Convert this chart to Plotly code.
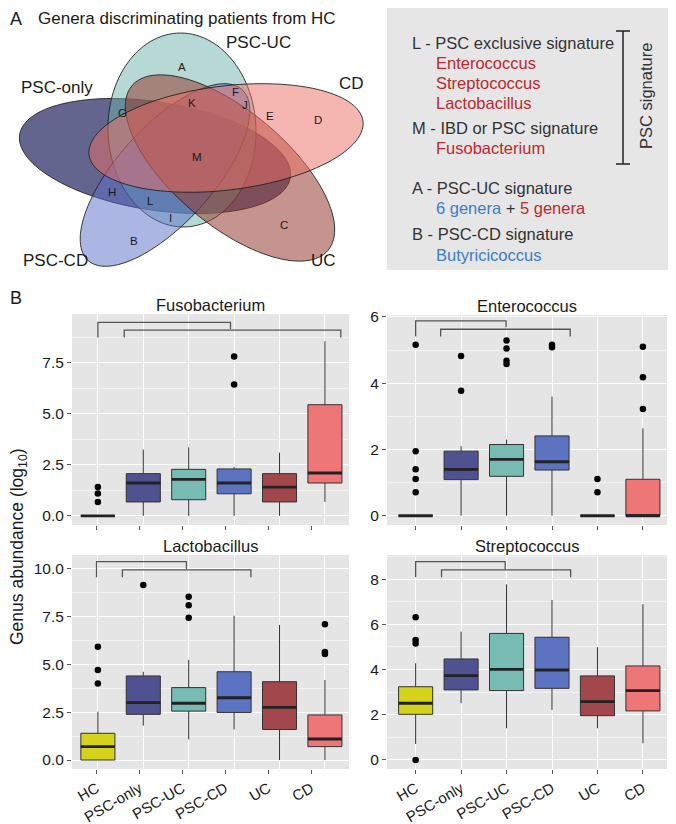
import numpy as np
import plotly.graph_objects as go

# the page body adds an 8px margin on the top/left, so shift everything by it
OFF = 8
W, H = 676 - OFF, 824 - OFF
FONT = "Liberation Sans, Arial, sans-serif"

# ---- data -------------------------------------------------------------
GROUPS = ["HC", "PSC-only", "PSC-UC", "PSC-CD", "UC", "CD"]
GROUP_COLORS = ["#d4d21a", "#4f5190", "#77bbb3", "#5b73c0", "#a2474b", "#ef7676"]

fuso_q1 = [0, 0.68, 0.79, 1.08, 0.68, 1.61]
fuso_median = [0, 1.61, 1.79, 1.61, 1.41, 2.10]
fuso_q3 = [0, 2.07, 2.28, 2.30, 2.07, 5.45]
fuso_low = [0, 0, 0, 0, 0, 0.68]
fuso_high = [0, 3.25, 3.36, 2.40, 3.10, 8.56]
fuso_out = [[0.68, 1.09, 1.42], [], [], [6.44, 7.81], [], []]

entero_q1 = [0, 1.09, 1.19, 1.38, 0, 0]
entero_median = [0, 1.40, 1.70, 1.63, 0, 0]
entero_q3 = [0, 1.95, 2.15, 2.41, 0, 1.10]
entero_low = [0, 0, 0, 0, 0, 0]
entero_high = [0, 2.10, 2.30, 3.60, 0, 2.64]
entero_out = [[0.71, 1.11, 1.40, 1.95, 5.16], [3.77, 4.82],
              [4.58, 4.68, 5.05, 5.29], [5.09, 5.16], [0.71, 1.11],
              [3.22, 4.18, 5.10]]

lacto_q1 = [0, 2.39, 2.56, 2.49, 1.60, 0.70]
lacto_median = [0.70, 3.00, 2.97, 3.26, 2.76, 1.10]
lacto_q3 = [1.40, 4.40, 3.79, 4.62, 4.10, 2.36]
lacto_low = [0, 1.80, 1.08, 1.60, 0, 0]
lacto_high = [2.53, 4.62, 5.24, 7.55, 7.07, 4.19]
lacto_out = [[4.01, 4.71, 5.93], [9.16], [7.45, 8.10, 8.55], [], [],
             [5.55, 5.65, 7.10]]

strep_q1 = [2.02, 3.10, 3.07, 3.17, 1.96, 2.17]
strep_median = [2.51, 3.73, 4.01, 3.98, 2.58, 3.07]
strep_q3 = [3.24, 4.47, 5.60, 5.43, 3.72, 4.16]
strep_low = [0.71, 2.51, 1.40, 2.21, 1.40, 0.74]
strep_high = [4.28, 5.68, 7.77, 7.08, 4.99, 6.89]
strep_out = [[0, 5.15, 5.31, 6.31], [], [], [], [], []]

# significance brackets: x0, x1, top, left foot, right foot
fuso_brackets = [(0.0, 2.92, 9.49, 8.75, 9.16), (0.58, 5.35, 9.11, 8.75, 8.75)]
entero_brackets = [(0.0, 1.99, 5.88, 5.41, 5.69), (0.55, 3.40, 5.63, 5.41, 5.41)]
lacto_brackets = [(-0.03, 1.95, 10.38, 9.56, 9.98), (0.54, 3.37, 9.95, 9.56, 9.56)]
strep_brackets = [(0.0, 1.97, 8.78, 8.08, 8.43), (0.57, 3.41, 8.41, 8.08, 8.08)]

# in the left column the tick marks sit on a slightly tighter pitch than the boxes
LEFT_TICK_POS = [-0.03, 0.915, 1.86, 2.805, 3.75, 4.695]
RIGHT_TICK_POS = [0, 1, 2, 3, 4, 5]


def X(px):
    return (px - OFF) / W


def Y(py):
    return 1 - (py - OFF) / H


def label(text, x, y, size, color="#1a1a1a", xanchor="center", angle=0):
    return dict(text=text, x=X(x), y=Y(y), xref="paper", yref="paper",
                xanchor=xanchor, yanchor="middle", textangle=angle, showarrow=False,
                font=dict(family=FONT, size=size, color=color))


fig = go.Figure()

panels = [
    ("Fusobacterium", fuso_q1, fuso_median, fuso_q3, fuso_low, fuso_high, fuso_out, fuso_brackets),
    ("Enterococcus", entero_q1, entero_median, entero_q3, entero_low, entero_high, entero_out, entero_brackets),
    ("Lactobacillus", lacto_q1, lacto_median, lacto_q3, lacto_low, lacto_high, lacto_out, lacto_brackets),
    ("Streptococcus", strep_q1, strep_median, strep_q3, strep_low, strep_high, strep_out, strep_brackets),
]
panel_px = [(72, 349, 314, 525), (387, 667, 315, 525), (72, 349, 555, 769), (387, 667, 555, 769)]
x_ranges = [[-0.57, 5.53], [-0.63, 5.53], [-0.57, 5.53], [-0.63, 5.53]]
tick_pos = [LEFT_TICK_POS, RIGHT_TICK_POS, LEFT_TICK_POS, RIGHT_TICK_POS]
y_ranges = [[-0.45, 9.9], [-0.28, 6.06], [-0.47, 10.73], [-0.4, 9.07]]
y_dtick = [2.5, 2, 2.5, 2]
y_fmt = [".1f", "d", ".1f", "d"]

shapes = []
annotations = []
bw = 0.75

for k, (title, q1, med, q3, lo, hi, outs, brackets) in enumerate(panels):
    xa = "x" if k == 0 else "x%d" % (k + 1)
    ya = "y" if k == 0 else "y%d" % (k + 1)
    for i, g in enumerate(GROUPS):
        fig.add_trace(go.Box(
            x=[i], q1=[q1[i]], median=[med[i]], q3=[q3[i]],
            lowerfence=[lo[i]], upperfence=[hi[i]], width=bw,
            fillcolor=GROUP_COLORS[i], line=dict(color="#333333", width=1),
            whiskerwidth=0, boxpoints=False, showlegend=False, name=g,
            xaxis=xa, yaxis=ya))
    mx, my = [], []
    for i in range(len(GROUPS)):
        mx += [i - bw / 2, i + bw / 2, None]
        my += [med[i], med[i], None]
    fig.add_trace(go.Scatter(x=mx, y=my, mode="lines", line=dict(color="#222222", width=2.8),
                             showlegend=False, xaxis=xa, yaxis=ya, hoverinfo="skip"))
    ox, oy = [], []
    for i, vals in enumerate(outs):
        ox += [i] * len(vals)
        oy += vals
    fig.add_trace(go.Scatter(x=ox, y=oy, mode="markers", marker=dict(color="black", size=6.5),
                             showlegend=False, xaxis=xa, yaxis=ya))
    for (x0, x1, top, f0, f1) in brackets:
        shapes.append(dict(type="path", xref=xa, yref=ya,
                           path="M %g %g L %g %g L %g %g L %g %g" % (x0, f0, x0, top, x1, top, x1, f1),
                           line=dict(color="#555555", width=1.3)))

    l, r, t, b = panel_px[k]
    key = "" if k == 0 else str(k + 1)
    fig.layout["xaxis" + key] = dict(
        domain=[X(l), X(r)], range=x_ranges[k], anchor=ya, automargin=False,
        tickmode="array", tickvals=tick_pos[k], ticktext=GROUPS,
        showticklabels=k >= 2, tickangle=-30, ticks="outside", ticklen=4,
        tickcolor="#555555", showgrid=False,
        minor=dict(tickmode="array", tickvals=list(range(len(GROUPS))), ticks="",
                   showgrid=True, gridcolor="white", gridwidth=1.3),
        zeroline=False, showline=False,
        tickfont=dict(family=FONT, size=15, color="#1a1a1a"))
    fig.layout["yaxis" + key] = dict(
        domain=[Y(b), Y(t)], range=y_ranges[k], anchor=xa, automargin=False,
        tick0=0, dtick=y_dtick[k], tickformat=y_fmt[k], ticks="outside", ticklen=4,
        tickcolor="#555555", showgrid=True, gridcolor="white", gridwidth=1.3,
        minor=dict(dtick=y_dtick[k] / 2, showgrid=True, gridcolor="#f2f2f2", gridwidth=0.7),
        zeroline=False, showline=False,
        tickfont=dict(family=FONT, size=15.5, color="#1a1a1a"))
    annotations.append(label(title, (l + r) / 2, t - 9, 16.5))

# ---- panel A: Venn diagram -------------------------------------------
ELLIPSES = [
    # name, cx, cy, semi-major, semi-minor, angle (deg), fill
    ("PSC-only", 155, 156, 137, 54, 9, "rgba(40,42,100,0.72)"),
    ("PSC-UC", 182, 130, 97, 74, 88, "rgba(110,180,172,0.5)"),
    ("PSC-CD", 165, 175, 115, 48, -48, "rgba(90,110,200,0.5)"),
    ("UC", 230, 168, 128, 57, 40, "rgba(150,60,50,0.55)"),
    ("CD", 226, 138, 138, 52, -7, "rgba(235,110,100,0.5)"),
]
t = np.linspace(0, 2 * np.pi, 120)
for name, cx, cy, a, b, ang, fill in ELLIPSES:
    th = np.radians(ang)
    px = cx + a * np.cos(t) * np.cos(th) - b * np.sin(t) * np.sin(th)
    py = cy + a * np.cos(t) * np.sin(th) + b * np.sin(t) * np.cos(th)
    path = "M " + " L ".join("%.4f,%.4f" % (X(u), Y(v)) for u, v in zip(px, py)) + " Z"
    shapes.append(dict(type="path", xref="paper", yref="paper", path=path,
                       fillcolor=fill, line=dict(color="#222222", width=0.9)))

venn_sets = [("PSC-UC", 258, 43), ("PSC-only", 57, 88), ("CD", 352, 83),
             ("PSC-CD", 55, 260), ("UC", 323, 260)]
venn_regions = [("A", 182, 67), ("G", 122, 113), ("K", 192, 103), ("F", 235, 92),
                ("J", 245, 105), ("E", 270, 116), ("D", 318, 120), ("M", 197, 157),
                ("H", 112, 192), ("L", 150, 201), ("I", 170, 218), ("C", 284, 225),
                ("B", 134, 241)]
for txt, x, y in venn_sets:
    annotations.append(label(txt, x, y, 17))
for txt, x, y in venn_regions:
    annotations.append(label(txt, x, y, 11.5))

annotations.append(label("A", 8, 19, 18, xanchor="left"))
annotations.append(label("Genera discriminating patients from HC", 36, 19, 17, xanchor="left"))
annotations.append(label("B", 8, 298, 18, xanchor="left"))
annotations.append(label("Genus abundance (log<sub>10</sub>)", 18, 547, 17.5, angle=-90))

# ---- signature box ---------------------------------------------------
RED, BLUE, DARK = "#c0272d", "#3d7cc9", "#333333"
box_lines = [
    ("L - PSC exclusive signature", 410, 43, DARK),
    ("Enterococcus", 434, 63, RED),
    ("Streptococcus", 434, 83, RED),
    ("Lactobacillus", 434, 103, RED),
    ("M - IBD or PSC signature", 410, 128, DARK),
    ("Fusobacterium", 434, 148, RED),
    ("A - PSC-UC signature", 410, 188, DARK),
    ("<span style='color:%s'>6 genera</span> + <span style='color:%s'>5 genera</span>" % (BLUE, RED), 434, 208, DARK),
    ("B - PSC-CD signature", 410, 234, DARK),
    ("Butyricicoccus", 434, 255, BLUE),
]
shapes.append(dict(type="rect", xref="paper", yref="paper", x0=X(387), x1=X(676), y0=Y(270), y1=Y(2),
                   fillcolor="#e6e6e6", line=dict(width=0), layer="below"))
for txt, x, y, c in box_lines:
    annotations.append(label(txt, x, y, 16.5, color=c, xanchor="left"))
for (x0, y0, x1, y1) in [(623, 31, 623, 164), (616, 31, 630, 31), (616, 164, 630, 164)]:
    shapes.append(dict(type="line", xref="paper", yref="paper", x0=X(x0), y0=Y(y0), x1=X(x1), y1=Y(y1),
                       line=dict(color="#222222", width=1.5)))
annotations.append(label("PSC signature", 646, 96, 16.5, color=DARK, angle=-90))

fig.update_layout(width=W, height=H, margin=dict(l=0, r=0, t=0, b=0, autoexpand=False),
                  paper_bgcolor="white", plot_bgcolor="#e5e5e5",
                  shapes=shapes, annotations=annotations, showlegend=False,
                  font=dict(family=FONT))
fig.write_html("out.html")
